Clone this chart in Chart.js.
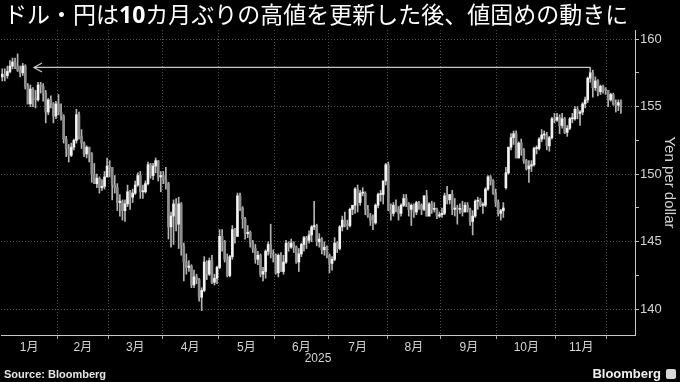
<!DOCTYPE html>
<html><head><meta charset="utf-8">
<script src="https://cdn.jsdelivr.net/npm/chart.js@4.4.1/dist/chart.umd.min.js"></script>
<style>
html,body{margin:0;padding:0;background:#000;}
#wrap{position:relative;width:680px;height:382px;overflow:hidden;background:#000;}
#c{position:absolute;left:0;top:0;}
#title{position:absolute;left:4px;top:1px;color:#fff;font-family:"Noto Sans CJK JP",sans-serif;font-size:23px;line-height:25px;white-space:nowrap;}
#title b{font-family:"Open Sans","Liberation Sans",sans-serif;font-weight:700;}
#src{position:absolute;left:4px;top:367px;color:#e6e6e6;font-family:"Liberation Sans",Arial,sans-serif;font-weight:700;font-size:11px;line-height:14px;}
#logo{position:absolute;right:19px;top:366px;color:#f0f0f0;font-family:"Liberation Sans",Arial,sans-serif;font-weight:700;font-size:13px;line-height:16px;}
#icon{position:absolute;left:666px;top:369px;width:10px;height:10px;background:#d8d8d8;border-radius:2px;}
</style></head>
<body><div id="wrap">
<canvas id="c" width="680" height="382"></canvas>
<div id="title">ドル・円は<b>10</b>カ月ぶりの高値を更新した後、値固めの動きに</div>
<div id="src">Source: Bloomberg</div>
<div id="logo">Bloomberg</div>
<div id="icon"></div>
</div>
<script>
// Month tick labels and trading-day index of each month's first day (Jan 2 2025 = 0)
const monthLabels = ['1月','2月','3月','4月','5月','6月','7月','8月','9月','10月','11月'];
const monthStart = [0,22,42,63,85,107,128,151,172,194,217,237];
const yearLabel = '2025';
const yTicks = [140,142.5,145,147.5,150,152.5,155,157.5,160];

// Daily USD/JPY OHLC, Jan 2 2025 - Dec 8 2025
const open = [
157.2,157.4,157.3,157.6,158.0,158.3,158.0,157.7,157.5,158.0,156.5,155.2,156.3,155.6,155.5,156.6,156.5,156.0,154.6,155.5,155.2,154.3,
155.2,154.6,154.3,152.6,151.9,151.4,152.0,152.5,154.4,152.8,152.3,151.5,152.0,151.5,150.0,149.3,149.7,149.0,149.1,149.8,
150.6,150.5,149.2,149.0,147.9,148.0,147.3,147.8,148.7,148.3,148.6,149.2,149.9,148.7,148.7,149.3,150.7,149.9,150.6,151.0,149.8,
149.9,149.6,149.3,146.1,146.9,147.8,146.3,147.8,144.7,143.5,143.1,143.2,141.8,142.4,142.2,140.9,141.4,143.5,142.6,143.6,142.0,142.3,
143.1,145.4,145.0,143.7,142.5,143.9,145.9,145.4,148.4,147.5,146.7,145.6,145.7,144.9,144.5,143.7,144.0,142.6,142.8,144.3,144.8,144.1,
144.0,142.7,144.0,142.8,143.5,144.9,144.6,144.9,144.6,143.5,144.1,144.8,145.3,145.1,145.5,146.1,146.2,145.0,145.2,144.4,144.6,
144.0,143.4,143.7,144.9,144.5,146.1,146.6,146.3,146.2,147.4,147.7,148.9,147.9,148.6,148.6,147.4,146.9,146.6,146.4,147.7,148.5,148.5,149.5,
150.7,147.4,147.1,147.7,147.4,147.1,147.7,148.2,147.8,147.4,147.7,147.2,147.9,147.7,147.4,148.4,146.9,147.8,147.4,147.4,146.9,
147.0,147.1,148.4,148.1,148.5,147.4,147.5,147.4,147.4,147.2,147.7,147.4,146.5,146.9,148.0,148.0,147.7,147.7,148.9,149.8,149.5,148.6,
147.9,147.1,147.3,149.0,150.1,152.0,152.7,153.0,151.2,152.3,151.8,151.0,150.4,150.6,150.7,151.9,151.9,152.6,152.9,152.9,152.1,152.7,154.1,
154.0,154.2,153.6,154.1,153.1,153.4,154.1,154.1,154.8,154.5,154.6,155.2,155.5,157.1,157.5,156.4,156.9,156.1,156.5,156.3,
156.2,155.5,155.9,155.2,155.1,155.3];
const high = [
157.8,157.8,158.0,158.4,158.6,158.6,158.9,158.0,158.2,158.1,156.7,156.6,156.4,156.2,156.8,156.8,156.7,156.2,155.6,155.8,155.3,155.4,
155.9,155.2,154.4,152.8,152.2,152.3,152.6,154.8,154.6,153.3,152.4,152.1,152.0,151.6,150.8,150.0,149.8,149.6,150.2,151.2,
151.0,150.5,149.9,149.3,148.5,148.1,148.1,149.2,148.8,148.9,149.5,150.1,150.2,149.2,149.5,150.9,150.8,150.8,151.2,151.0,150.2,
150.2,150.5,149.4,147.2,148.1,148.2,148.3,147.9,144.9,144.1,143.6,143.3,142.9,142.6,142.3,141.6,143.9,143.6,143.8,144.0,142.6,143.2,
145.9,145.9,145.1,144.1,144.0,146.2,146.0,148.6,148.6,147.6,146.8,146.2,145.8,145.1,144.8,144.3,144.1,143.1,144.4,145.0,146.3,144.4,
144.1,144.1,144.2,144.0,145.1,145.0,145.2,145.0,144.7,144.5,144.9,145.4,145.4,145.8,146.2,148.0,146.3,145.6,145.3,145.0,144.7,
144.1,143.9,145.3,145.0,146.2,146.9,147.2,146.6,147.5,147.7,149.0,149.2,148.8,149.0,148.7,147.7,147.1,147.0,147.8,148.6,148.8,149.5,150.8,
150.9,147.8,147.9,148.1,147.6,147.8,148.5,148.5,147.9,147.8,147.8,148.0,148.0,147.8,148.4,148.8,147.9,148.0,147.9,147.5,147.2,
147.5,148.6,149.1,148.5,148.8,148.2,147.7,147.8,148.0,147.9,147.9,147.5,147.3,148.1,148.3,148.2,147.9,149.0,149.9,149.9,149.6,148.9,
148.1,147.4,147.9,150.5,152.0,153.0,153.2,153.2,152.4,152.6,151.9,151.1,151.0,151.0,152.0,152.1,152.7,153.3,153.2,153.1,152.8,154.2,154.5,
154.5,154.4,154.5,154.2,153.6,154.2,154.5,155.0,155.0,154.7,155.3,155.7,157.2,157.9,157.7,157.2,157.0,156.6,156.6,156.4,
156.2,156.0,156.0,155.5,155.5,155.5];
const low = [
156.9,156.9,157.1,157.5,157.8,157.8,157.6,157.2,157.3,156.3,155.2,155.0,155.0,154.9,155.4,156.0,155.4,153.8,154.4,154.9,153.8,154.1,
154.4,154.0,152.3,151.3,150.9,151.3,151.8,152.3,152.6,151.9,151.3,151.2,150.9,149.4,149.3,149.0,148.6,148.8,148.9,149.8,
149.8,148.1,148.6,147.3,146.9,146.6,146.5,147.6,147.4,147.9,148.5,149.1,148.2,148.2,148.6,149.2,149.7,149.6,150.1,149.5,148.7,
149.3,148.9,145.2,144.6,144.8,145.8,144.5,144.0,142.1,142.6,142.8,141.6,141.6,141.9,140.6,139.9,141.3,142.2,142.5,141.9,141.8,141.9,
143.0,144.3,143.5,142.4,142.4,143.7,144.9,145.4,147.3,146.0,145.2,145.3,144.6,144.2,143.4,143.3,142.4,142.1,142.3,144.0,143.8,143.5,
142.6,142.4,142.8,142.6,143.4,144.3,144.5,144.2,143.4,142.8,143.9,144.3,144.5,144.9,145.0,145.9,144.7,144.6,144.1,144.0,143.8,
142.7,142.9,143.6,144.2,144.4,145.8,146.1,145.9,146.1,147.0,147.1,147.2,147.7,148.4,147.0,146.8,146.2,145.9,146.3,147.5,148.0,147.8,149.2,
147.3,146.6,146.9,147.2,146.6,146.9,147.6,147.6,146.9,146.2,146.8,147.0,147.4,147.0,147.3,146.9,146.9,147.1,147.2,146.7,146.8,
146.8,147.0,147.8,147.8,147.0,146.9,146.3,147.1,146.9,147.2,147.2,146.2,145.5,146.8,147.4,147.6,147.1,147.6,148.8,149.2,148.5,147.6,
146.9,146.6,146.8,148.9,150.0,151.8,152.2,151.2,151.2,151.4,150.8,150.3,149.4,150.2,150.6,151.5,151.8,152.4,152.6,151.8,151.7,152.6,153.8,
153.9,153.0,153.4,153.0,152.8,153.3,153.8,154.0,154.1,153.6,154.4,154.9,155.3,156.8,155.7,156.2,155.8,155.9,156.0,155.9,
155.0,155.4,155.1,154.6,154.7,154.5];
const close = [
157.4,157.3,157.6,158.0,158.3,158.0,157.7,157.5,158.0,156.5,155.2,156.3,155.6,155.5,156.6,156.5,156.0,154.6,155.5,155.2,154.3,155.2,
154.6,154.3,152.6,151.9,151.4,152.0,152.5,154.4,152.8,152.3,151.5,152.0,151.5,150.0,149.3,149.7,149.0,149.1,149.8,150.6,
150.5,149.2,149.0,147.9,148.0,147.3,147.8,148.7,148.3,148.6,149.2,149.9,148.7,148.7,149.3,150.7,149.9,150.6,151.0,149.8,149.9,
149.6,149.3,146.1,146.9,147.8,146.3,147.8,144.7,143.5,143.1,143.2,141.8,142.4,142.2,140.9,141.4,143.5,142.6,143.6,142.0,142.3,143.1,
145.4,145.0,143.7,142.5,143.9,145.9,145.4,148.4,147.5,146.7,145.6,145.7,144.9,144.5,143.7,144.0,142.6,142.8,144.3,144.8,144.1,144.0,
142.7,144.0,142.8,143.5,144.9,144.6,144.9,144.6,143.5,144.1,144.8,145.3,145.1,145.5,146.1,146.2,145.0,145.2,144.4,144.6,144.0,
143.4,143.7,144.9,144.5,146.1,146.6,146.3,146.2,147.4,147.7,148.9,147.9,148.6,148.6,147.4,146.9,146.6,146.4,147.7,148.5,148.5,149.5,150.7,
147.4,147.1,147.7,147.4,147.1,147.7,148.2,147.8,147.4,147.7,147.2,147.9,147.7,147.4,148.4,146.9,147.8,147.4,147.4,146.9,147.0,
147.1,148.4,148.1,148.5,147.4,147.5,147.4,147.4,147.2,147.7,147.4,146.5,146.9,148.0,148.0,147.7,147.7,148.9,149.8,149.5,148.6,147.9,
147.1,147.3,147.5,150.1,152.0,152.7,153.0,151.2,152.3,151.8,151.0,150.4,150.6,150.7,151.9,151.9,152.6,152.9,152.9,152.1,152.7,154.1,154.0,
154.2,153.6,154.1,153.1,153.4,154.1,154.1,154.8,154.5,154.6,155.2,155.5,157.1,157.5,156.4,156.9,156.1,156.5,156.3,156.2,
155.5,155.9,155.2,155.1,155.3,155.2];

// Annotation arrow: from the Nov 20 high back to the January level
const arrowX = [230, 12.4];
const arrowY = [157.9, 157.9];

const nDays = close.length;
const xMin = -0.5, xMax = 247.5;
const GRID = '#4d4d4d', AXIS = '#c8c8c8', TXT = '#d4d4d4';
const UP = '#f2f2f2', DOWN = '#8f8f8f', WICK = '#b4b4b4';

const xTicks = [{value: xMin, kind: 'edge'}];
monthStart.forEach((s, i) => {
  if (i > 0) xTicks.push({value: s - 0.5, kind: 'b'});
  if (i < monthLabels.length) {
    const e = (i + 1 < monthStart.length ? monthStart[i + 1] : nDays) - 1;
    xTicks.push({value: (s + e) / 2, kind: 'm', text: monthLabels[i]});
  }
});
xTicks.push({value: xMax, kind: 'edge'});
xTicks.sort((a, b) => a.value - b.value);

const wickData = close.map((c, i) => ({x: i, y: [low[i], high[i]]}));
const bodyData = close.map((c, i) => ({x: i, y: [open[i], c]}));
const bodyColors = close.map((c, i) => c >= open[i] ? UP : DOWN);
const arrowData = arrowX.map((v, i) => ({x: v, y: arrowY[i]}));

const arrowHead = {
  id: 'arrowHead',
  afterDatasetsDraw(chart) {
    const {ctx, scales} = chart;
    const px = scales.x.getPixelForValue(arrowX[1]);
    const py = scales.y.getPixelForValue(arrowY[1]);
    ctx.save();
    ctx.strokeStyle = AXIS; ctx.lineWidth = 1.2;
    ctx.beginPath();
    ctx.moveTo(px + 8, py - 4.5); ctx.lineTo(px, py); ctx.lineTo(px + 8, py + 4.5);
    ctx.stroke();
    ctx.restore();
  }
};

Chart.defaults.font.family = '"Liberation Sans", "Noto Sans CJK JP", Arial, sans-serif';
new Chart(document.getElementById('c'), {
  type: 'bar',
  data: {
    datasets: [
      {type: 'line', data: arrowData, borderColor: AXIS, borderWidth: 1.2, pointRadius: 0, order: 0},
      {type: 'bar', data: bodyData, backgroundColor: bodyColors, barThickness: 2, grouped: false, minBarLength: 1, order: 1},
      {type: 'bar', data: wickData, backgroundColor: WICK, barThickness: 1, grouped: false, order: 2}
    ]
  },
  options: {
    responsive: false, animation: false,
    layout: {padding: {top: 30, left: 0, right: 0, bottom: 16}},
    plugins: {legend: {display: false}, tooltip: {enabled: false}, title: {display: false}},
    scales: {
      x: {
        type: 'linear', position: 'bottom', min: xMin, max: xMax, offset: false,
        afterBuildTicks: s => { s.ticks = xTicks.map(t => Object.assign({}, t)); },
        afterFit: s => { s.height = 31; },
        ticks: {autoSkip: false, maxRotation: 0, minRotation: 0, padding: 1, color: TXT,
          font: {size: 12}, callback: (v, i, ticks) => (ticks[i] && ticks[i].text) || ''},
        grid: {offset: false, lineWidth: 1, tickLength: 4,
          color: c => (c.tick && c.tick.kind === 'b') ? GRID : 'transparent',
          tickColor: c => (c.tick && c.tick.kind === 'b') ? '#a8a8a8' : 'transparent'},
        border: {display: true, color: AXIS, width: 1, dash: [1, 2]},
        title: {display: true, text: yearLabel, color: TXT, font: {size: 12}, padding: {top: 0, bottom: 0}}
      },
      y: {
        type: 'linear', position: 'right', min: 138.1, max: 160.67, beginAtZero: false,
        afterBuildTicks: s => { s.ticks = yTicks.map(v => ({value: v})); },
        afterFit: s => { s.width = 45; },
        ticks: {color: TXT, font: {size: 13}, padding: 1, callback: v => (v % 5 === 0 ? String(v) : '')},
        grid: {lineWidth: 1, tickLength: 4,
          color: c => (c.tick && c.tick.value % 5 === 0) ? GRID : 'transparent',
          tickColor: '#bdbdbd'},
        border: {display: true, color: AXIS, width: 1, dash: [1, 2]},
        title: {display: true, text: 'Yen per dollar', color: TXT, font: {size: 15}, padding: {top: 2, bottom: 0}}
      }
    }
  },
  plugins: [arrowHead]
});
</script>
</body></html>
